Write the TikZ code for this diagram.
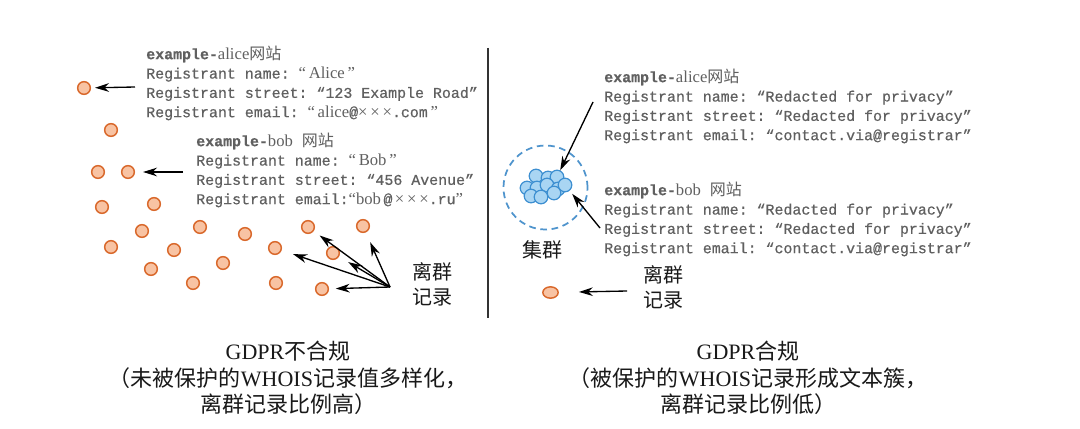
\documentclass[tikz,border=0pt]{standalone}
\usepackage{fontspec}
\setmainfont{Liberation Serif}
\setmonofont{Liberation Mono}[FakeBold=0.5]
\newfontfamily\cjk{Noto Sans CJK SC}
\usetikzlibrary{arrows.meta, shapes.geometric}

\definecolor{dotfill}{HTML}{F8C3A3}
\definecolor{dotedge}{HTML}{D9682B}
\definecolor{clusterfill}{HTML}{A9D5F3}
\definecolor{clusteredge}{HTML}{3D8FD1}
\definecolor{ringblue}{HTML}{4F94CD}
\definecolor{regtext}{HTML}{606060}

\newcommand{\rmpart}[1]{{\rmfamily\fontsize{12.5pt}{14.5pt}\selectfont #1}}
\newcommand{\cjkpart}[1]{{\cjk\fontsize{12pt}{14.5pt}\selectfont #1}}

\begin{document}
\begin{tikzpicture}[x=0.75pt, y=-0.75pt,
  recdot/.style={circle, draw=dotedge, fill=dotfill, line width=1.1pt,
    minimum size=9.5pt, inner sep=0pt},
  clusterdot/.style={circle, draw=clusteredge, fill=clusterfill, line width=0.9pt,
    minimum size=10.2pt, inner sep=0pt},
  regblock/.style={anchor=west, align=left, inner sep=0pt, text=regtext,
    font=\ttfamily\fontsize{11.2pt}{14.5pt}\selectfont},
  caption/.style={align=center, inner sep=0pt, text=black!90,
    font=\fontsize{16.5pt}{20pt}\selectfont},
  cjklabel/.style={align=center, inner sep=0pt, text=black!90,
    font=\cjk\fontsize{15pt}{18.75pt}\selectfont},
  arr/.style={-{Stealth[length=10.5pt, width=6.5pt]}, line width=1pt}]

  % background and bounding box
  \fill[white] (0,0) rectangle (1080,428);

  % divider
  \draw[line width=1.1pt, black!80] (488,48) -- (488,318);

  % left side: scattered records
  \foreach \n/\x/\y in {1/84/88, 2/111/130, 3/98/172, 4/128/172, 5/102/207,
      6/154/204, 7/142/231, 8/111/247, 9/174/250, 10/151/269, 11/200/227,
      12/245/234, 13/308/227, 14/363/226, 15/275/248, 16/333/253,
      17/223/263, 18/193/283, 19/276/283, 20/322/289}
    \node[recdot] (d\n) at (\x,\y) {};

  \node[regblock] (aliceL) at (146,83) {%
    \textbf{example-}\rmpart{alice}\cjkpart{网站}\\
    Registrant name: \rmpart{“\,Alice\,”}\\
    Registrant street: “123 Example Road”\\
    Registrant email: \rmpart{“\,alice}@\rmpart{×\,×\,×}.com\rmpart{\,”}};
  \node[regblock] (bobL) at (196,170) {%
    \textbf{example-}\rmpart{bob} \cjkpart{网站}\\
    Registrant name: \rmpart{“\,Bob\,”}\\
    Registrant street: “456 Avenue”\\
    Registrant email:\rmpart{“bob}\,@\,\rmpart{×\,×\,×}.ru\rmpart{”}};

  \coordinate (aliceTail) at (135,87);
  \coordinate (bobTail) at (183,172);
  \draw[arr, shorten >=3pt] (aliceTail) -- (d1);
  \draw[arr, shorten >=6pt] (bobTail) -- (d4);

  % left outliers
  \node[cjklabel] (outlblL) at (432,284) {离群\\记录};
  \coordinate (outL) at (390,287);
  \draw[arr, shorten >=5.5pt] (outL) -- (d13);
  \draw[arr, shorten >=8pt] (outL) -- (d14);
  \draw[arr, shorten >=9pt] (outL) -- (d15);
  \draw[arr, shorten >=8pt] (outL) -- (d16);
  \draw[arr, shorten >=5pt] (outL) -- (d20);

  % right side: cluster
  \node[circle, draw=ringblue, dashed, dash pattern=on 5pt off 3.5pt,
    line width=1.3pt, minimum size=63pt, inner sep=0pt] (ring) at (545.5,187.5) {};
  \foreach \n/\x/\y in {1/536/176, 2/548/178, 3/557/177, 4/527/188, 5/537/188,
      6/547/185, 7/558/189, 8/565/185, 9/554/193, 10/531/196, 11/541/197}
    \node[clusterdot] (c\n) at (\x,\y) {};
  \node[cjklabel] (clusterlbl) at (542,250) {集群};

  \node[regblock] (aliceR) at (604,106) {%
    \textbf{example-}\rmpart{alice}\cjkpart{网站}\\
    Registrant name: “Redacted for privacy”\\
    Registrant street: “Redacted for privacy”\\
    Registrant email: “contact.via@registrar”};
  \node[regblock] (bobR) at (604,219) {%
    \textbf{example-}\rmpart{bob} \cjkpart{网站}\\
    Registrant name: “Redacted for privacy”\\
    Registrant street: “Redacted for privacy”\\
    Registrant email: “contact.via@registrar”};

  \coordinate (aliceRTail) at (593,102);
  \coordinate (bobRTail) at (600,228);
  \draw[arr] (aliceRTail) -- (c3);
  \draw[arr, shorten >=3pt] (bobRTail) -- (c8);

  % right outlier
  \node[ellipse, draw=dotedge, fill=dotfill, line width=1.1pt,
    minimum width=11.5pt, minimum height=8.5pt, inner sep=0pt] (r1) at (550.5,292.5) {};
  \node[cjklabel] (outlblR) at (663.5,287.5) {离群\\记录};
  \coordinate (outR) at (627,291);
  \draw[arr, shorten >=15pt] (outR) -- (r1);

  % captions
  \node[caption] (capL) at (288,378) {GDPR{\cjk 不合规}\\
    {\cjk （未被保护的}WHOIS{\cjk 记录值多样化，}\\
    {\cjk 离群记录比例高）}};
  \node[caption] (capR) at (748,378) {GDPR{\cjk 合规}\\
    {\cjk （被保护的}WHOIS{\cjk 记录形成文本簇，}\\
    {\cjk 离群记录比例低）}};
\end{tikzpicture}
\end{document}
